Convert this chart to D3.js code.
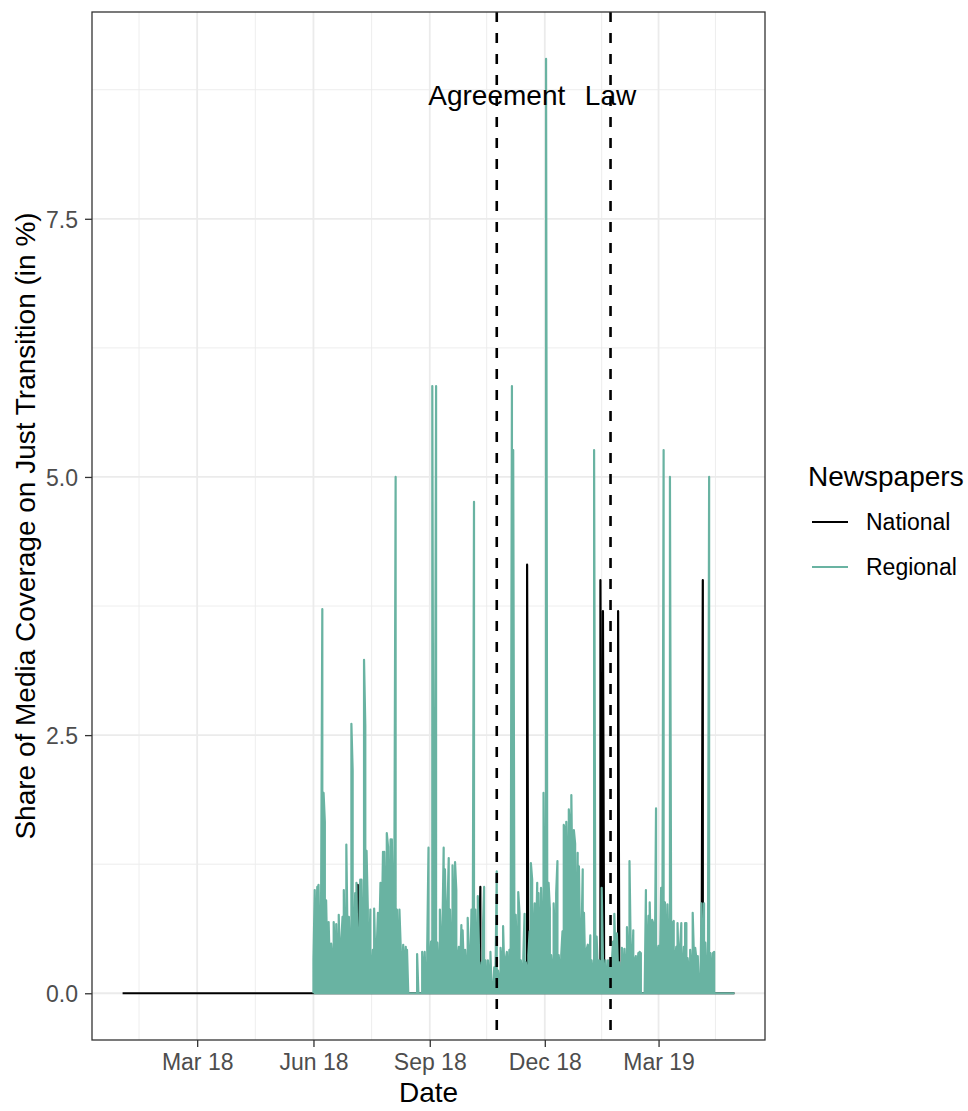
<!DOCTYPE html>
<html>
<head>
<meta charset="utf-8">
<script src="https://cdn.jsdelivr.net/npm/d3@7"></script>
<style>
  body { margin: 0; background: #fff; }
  svg text { font-family: "Liberation Sans", Arial, Helvetica, sans-serif; }
</style>
</head>
<body>
<div id="chart"></div>
<script>
// Regional newspapers: highest paper value per day, starting at regionalStart
const regionalStart = '2018-06-01';
const regionalValues = [
  0.33, 1.0, 0.6, 1.03, 1.05, 0.3, 0.8, 3.72, 1.94, 1.66,
  0.9, 0.3, 0.69, 0.2, 0.48, 0.3, 0.69, 0.35, 0.67, 0.3,
  0.76, 0.19, 0.5, 0.74, 1.0, 0.3, 1.44, 0.5, 0.74, 0.3,
  2.61, 2.16, 0.4, 0.97, 1.07, 0.2, 0.5, 1.1, 1.1, 0.4,
  3.23, 2.59, 1.38, 0.81, 0.3, 0.81, 0.2, 0.42, 0.82, 0.3,
  0.42, 0.78, 0.5, 1.07, 0.6, 1.37, 1.37, 0.8, 1.55, 1.42,
  0.7, 1.49, 1.49, 0.6, 1.2, 5.0, 0.81, 0.4, 0.81, 0.45,
  0.2, 0.47, 0.3, 0.45, 0.42, 0, 0, 0, 0, 0,
  0, 0, 0.38, 0, 0, 0, 0.4, 0.2, 0.4, 0,
  0.45, 1.41, 0.3, 0.5, 5.88, 0.5, 1.2, 5.88, 0.49, 0.2,
  0.81, 0.3, 0.6, 1.41, 1.2, 0.5, 0.8, 1.31, 0.81, 0.3,
  1.24, 0.7, 1.27, 1.0, 0.3, 0.45, 0.2, 0.66, 0.61, 0.2,
  0.42, 0.2, 0.73, 0.37, 0.15, 0.81, 0.5, 4.76, 0.81, 0.3,
  0.94, 0.4, 0.2, 0.3, 0.6, 1.03, 0.32, 0.1, 0.32, 0.15,
  0.4, 0, 0, 0.25, 0.2, 1.18, 0.22, 0.1, 0.44, 0.3,
  0.65, 0.2, 0.32, 0.4, 0.15, 0.42, 0.4, 5.88, 5.26, 0.4,
  0.76, 0.3, 0.98, 0.78, 0.32, 0.2, 0.35, 0.77, 0.3, 0.2,
  0.37, 0.6, 1.26, 1.1, 0.5, 0.87, 0.4, 1.07, 0.97, 0.4,
  1.02, 0.5, 1.94, 0.6, 9.05, 0.5, 1.07, 0.82, 0.37, 0.2,
  0.87, 0.5, 0.97, 1.28, 0.37, 0.2, 0.37, 0.6, 1.63, 1.58,
  1.66, 1.1, 1.78, 1.58, 1.92, 0.9, 1.58, 1.45, 0.6, 1.36,
  1.23, 0.35, 0.5, 1.2, 0.78, 0.2, 0.42, 0.47, 0.2, 0.56,
  0.32, 0.2, 5.26, 0.3, 0.55, 0.2, 0.32, 0.3, 1.02, 0.33,
  0.2, 0.32, 0.1, 0.32, 0.1, 0.3, 0.3, 0.5, 0.77, 0.3,
  0.58, 0.2, 0.3, 0.1, 0.44, 0.2, 0.43, 0.2, 0.64, 0.3,
  1.28, 0.4, 0.2, 0.61, 0.3, 0.36, 0.2, 0.39, 0.4, 0.39,
  0, 0, 0, 1.0, 0.4, 0.75, 0.88, 0.3, 0.71, 0.67,
  0.2, 1.79, 0.4, 0.46, 0.2, 1.02, 0.5, 5.26, 0.88, 0.4,
  0.86, 0.3, 5.0, 0.4, 0.68, 0.7, 0.3, 0.45, 0.68, 0.2,
  0.43, 0.68, 0.2, 0.45, 0.68, 0.68, 0.34, 0.2, 0.42, 0.2,
  0.78, 0.35, 0.44, 0.32, 0.36, 0, 0, 0.87, 0.3, 0.87,
  0.49, 0.1, 0, 5.0, 0.39, 0.2, 0.39, 0.4, 0, 0,
  0, 0, 0, 0, 0, 0, 0, 0, 0, 0,
  0, 0, 0, 0
];
// several papers per day: the lowest one on each day sits at 0
const dailyLow = 0;

// National newspapers: daily over this range, zero except on these days
const nationalRange = ['2018-01-01', '2019-04-30'];
const nationalDays = [
  ['2018-07-06', 1.05],
  ['2018-10-11', 1.03],
  ['2018-11-17', 4.15],
  ['2019-01-14', 4.0],
  ['2019-01-15', 0.35],
  ['2019-01-16', 3.7],
  ['2019-01-28', 3.7],
  ['2019-04-05', 4.0]
];

const seriesNames = ['National', 'Regional'];
const seriesColors = ['#000000', '#69b3a2'];

const events = [
  { date: '2018-10-24', label: 'Agreement' },
  { date: '2019-01-22', label: 'Law' }
];

const yTicks = [0, 2.5, 5, 7.5];
const yMinor = [1.25, 3.75, 6.25, 8.75];
const xTicks = ['2018-03-01', '2018-06-01', '2018-09-01', '2018-12-01', '2019-03-01'];
const xMinor = ['2018-01-14', '2018-04-16', '2018-07-17', '2018-10-16', '2019-01-15', '2019-04-15'];

const parse = d3.timeParse('%Y-%m-%d');
const width = 968, height = 1111;
const panel = { left: 92, right: 765, top: 12, bottom: 1040 };

// build daily series
const regional = regionalValues.map((v, i) => ({
  date: d3.timeDay.offset(parse(regionalStart), i), value: v
}));
const natLookup = new Map(nationalDays);
const fmtKey = d3.timeFormat('%Y-%m-%d');
const national = d3.timeDay.range(parse(nationalRange[0]), d3.timeDay.offset(parse(nationalRange[1]), 1))
  .map(d => ({ date: d, value: natLookup.get(fmtKey(d)) || 0 }));

// each day: go between the low paper and the high paper (same date)
function withDailyLow(series) {
  const pts = [];
  series.forEach((d, i) => {
    const low = { date: d.date, value: dailyLow };
    if (i % 2 === 0) pts.push(low, d);
    else pts.push(d, low);
  });
  return pts;
}

// ggplot-like 5% expansion
const xExt = [parse(nationalRange[0]), parse(nationalRange[1])];
const xSpan = xExt[1] - xExt[0];
const yMax = d3.max(regional.concat(national), d => d.value);

const x = d3.scaleTime()
  .domain([new Date(+xExt[0] - xSpan * 0.05), new Date(+xExt[1] + xSpan * 0.05)])
  .range([panel.left, panel.right]);
const y = d3.scaleLinear()
  .domain([-yMax * 0.05, yMax * 1.05])
  .range([panel.bottom, panel.top]);

const svg = d3.select('#chart').append('svg')
  .attr('width', width)
  .attr('height', height);

svg.append('rect').attr('width', width).attr('height', height).attr('fill', '#fff');

const grid = svg.append('g');
// minor grid
grid.selectAll('.ymin').data(yMinor).join('line')
  .attr('x1', panel.left).attr('x2', panel.right)
  .attr('y1', d => y(d)).attr('y2', d => y(d))
  .attr('stroke', '#ebebeb').attr('stroke-width', 0.9);
grid.selectAll('.xmin').data(xMinor).join('line')
  .attr('y1', panel.top).attr('y2', panel.bottom)
  .attr('x1', d => x(parse(d))).attr('x2', d => x(parse(d)))
  .attr('stroke', '#ebebeb').attr('stroke-width', 0.9);
// major grid
grid.selectAll('.ymaj').data(yTicks).join('line')
  .attr('x1', panel.left).attr('x2', panel.right)
  .attr('y1', d => y(d)).attr('y2', d => y(d))
  .attr('stroke', '#ebebeb').attr('stroke-width', 1.8);
grid.selectAll('.xmaj').data(xTicks).join('line')
  .attr('y1', panel.top).attr('y2', panel.bottom)
  .attr('x1', d => x(parse(d))).attr('x2', d => x(parse(d)))
  .attr('stroke', '#ebebeb').attr('stroke-width', 1.8);

// lines
const line = d3.line().x(d => x(d.date)).y(d => y(d.value));
const plot = svg.append('g');
[national, regional].forEach((s, i) => {
  plot.append('path')
    .datum(withDailyLow(s))
    .attr('d', line)
    .attr('fill', 'none')
    .attr('stroke', seriesColors[i])
    .attr('stroke-width', 2.2)
    .attr('stroke-linejoin', 'round');
});

// event lines and labels
events.forEach(e => {
  const ex = x(parse(e.date));
  plot.append('line')
    .attr('x1', ex).attr('x2', ex)
    .attr('y1', panel.top).attr('y2', panel.bottom)
    .attr('stroke', '#000')
    .attr('stroke-width', 2.6)
    .attr('stroke-dasharray', '10,11');
  plot.append('text')
    .attr('x', ex)
    .attr('y', 105)
    .attr('text-anchor', 'middle')
    .style('font-size', '28px')
    .attr('fill', '#000')
    .text(e.label);
});

// panel border
svg.append('rect')
  .attr('x', panel.left).attr('y', panel.top)
  .attr('width', panel.right - panel.left)
  .attr('height', panel.bottom - panel.top)
  .attr('fill', 'none')
  .attr('stroke', '#333333')
  .attr('stroke-width', 1.3);

// axes
const xAxis = svg.append('g')
  .attr('transform', `translate(0,${panel.bottom})`)
  .call(d3.axisBottom(x)
    .tickValues(xTicks.map(parse))
    .tickFormat(d3.timeFormat('%b %y'))
    .tickSize(7).tickPadding(7).tickSizeOuter(0));
const yAxis = svg.append('g')
  .attr('transform', `translate(${panel.left},0)`)
  .call(d3.axisLeft(y)
    .tickValues(yTicks)
    .tickFormat(d3.format('.1f'))
    .tickSize(7).tickPadding(7).tickSizeOuter(0));
[xAxis, yAxis].forEach(a => {
  a.select('.domain').remove();
  a.selectAll('.tick line').attr('stroke', '#333333').attr('stroke-width', 1.3);
  a.selectAll('.tick text')
    .attr('fill', '#4d4d4d')
    .style('font-size', '23px')
    .style('font-family', '"Liberation Sans", Arial, sans-serif');
});
yAxis.selectAll('.tick text').attr('dy', '0.36em');

// axis titles
svg.append('text')
  .attr('x', (panel.left + panel.right) / 2)
  .attr('y', 1102)
  .attr('text-anchor', 'middle')
  .style('font-size', '28px')
  .text('Date');
svg.append('text')
  .attr('transform', `translate(35,${(panel.top + panel.bottom) / 2}) rotate(-90)`)
  .attr('text-anchor', 'middle')
  .style('font-size', '28px')
  .text('Share of Media Coverage on Just Transition (in %)');

// legend
const legend = svg.append('g').attr('transform', 'translate(808,0)');
legend.append('text')
  .attr('x', 0).attr('y', 486)
  .style('font-size', '28px')
  .text('Newspapers');
seriesNames.forEach((name, i) => {
  const ly = 522 + i * 45;
  legend.append('line')
    .attr('x1', 4).attr('x2', 40)
    .attr('y1', ly).attr('y2', ly)
    .attr('stroke', seriesColors[i])
    .attr('stroke-width', 2.2);
  legend.append('text')
    .attr('x', 58).attr('y', ly + 8)
    .style('font-size', '23px')
    .text(name);
});
</script>
</body>
</html>
